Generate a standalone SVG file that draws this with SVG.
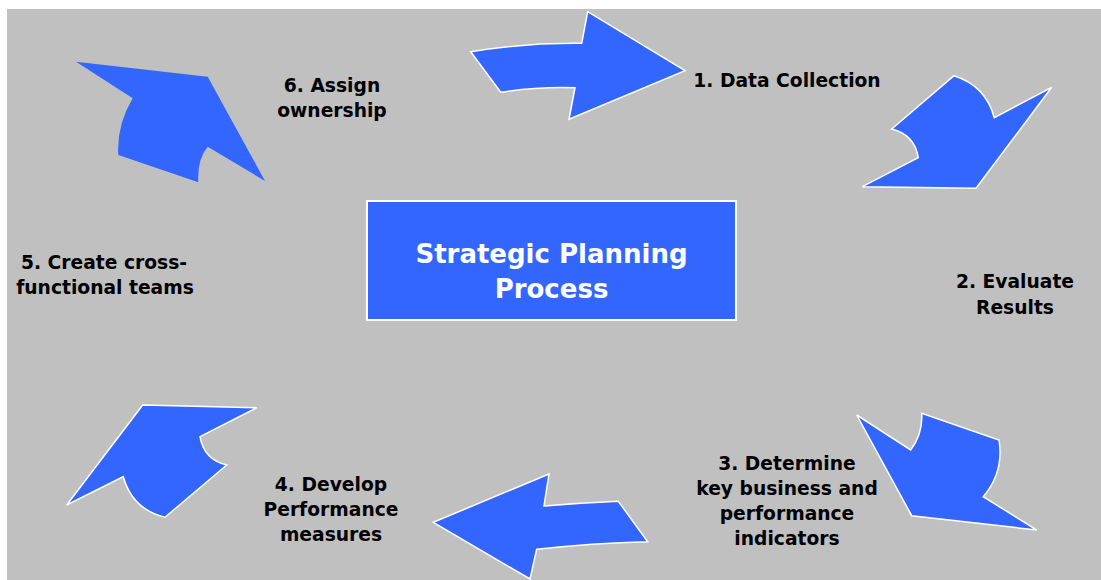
<svg xmlns="http://www.w3.org/2000/svg" width="1101" height="580" viewBox="0 0 1101 580">
<style>
.arrow{fill:#3366FF;stroke:#FFFFFF;stroke-width:1.5;stroke-linejoin:miter}
.arrow6{fill:#3366FF;stroke:none}
.lbl{font-family:"DejaVu Sans","Verdana",sans-serif;font-weight:bold;font-size:18.7px;fill:#000000;text-anchor:middle}
.title{font-family:"DejaVu Sans","Verdana",sans-serif;font-weight:bold;font-size:26px;fill:#FFFFFF;text-anchor:middle}
</style>
<rect x="0" y="0" width="1101" height="580" fill="#FFFFFF"/>
<rect x="7" y="9" width="1094" height="571" fill="#C0C0C0"/>
<g id="connectors">
  <path id="arrow1" class="arrow" d="M470.7,51.7 Q526,42.5 581.7,43.3 L587.7,11.7 L685,70.7 L569,119.3 L575,87.7 Q537,86.5 500.7,92.3 Z"/>
  <path id="arrow2" class="arrow" d="M954,75.7 Q985.7,85.7 994.3,117.7 L1051.7,87.3 L976,188.3 L862.3,186.7 L918.3,157.7 Q914.5,134.5 891.7,129 Z"/>
  <path id="arrow3" class="arrow" d="M856.7,415 L910.7,450 Q922.9,433.6 921.7,413.3 L999,440 Q1004.3,472 983.3,496.7 L1036.7,530 L911.7,515.7 Z"/>
  <path id="arrow4" class="arrow" d="M433.3,522.3 L549,474 L544,506 Q581,503 618.3,501.3 L647.7,541.7 Q592,543 536.7,549.3 L530,579 Z"/>
  <path id="arrow5" class="arrow" d="M142.7,405 L256.7,407.7 L200,436.7 Q203.9,459.8 226.7,465 L165,517.3 Q132.3,509.2 123.3,476.7 L66.7,505 Z"/>
  <path id="arrow6" class="arrow6" d="M76,61.7 L207.7,76.7 L265,181 L207.7,146.7 Q197,159.5 198.3,182.3 L118.3,155 Q116.5,125.4 132.7,98.3 Z"/>
</g>
<g id="center">
  <rect x="367" y="201" width="369" height="119" fill="#3366FF" stroke="#FFFFFF" stroke-width="2"/>
  <text class="title" x="551.5" y="263">Strategic Planning</text>
  <text class="title" x="551.5" y="298">Process</text>
</g>
<g id="step1">
  <text class="lbl" x="787" y="87">1. Data Collection</text>
</g>
<g id="step2">
  <text class="lbl" x="1015" y="288">2. Evaluate</text>
  <text class="lbl" x="1015" y="314">Results</text>
</g>
<g id="step3">
  <text class="lbl" x="787" y="470">3. Determine</text>
  <text class="lbl" x="787" y="495">key business and</text>
  <text class="lbl" x="787" y="520">performance</text>
  <text class="lbl" x="787" y="545">indicators</text>
</g>
<g id="step4">
  <text class="lbl" x="331" y="491">4. Develop</text>
  <text class="lbl" x="331" y="516">Performance</text>
  <text class="lbl" x="331" y="541">measures</text>
</g>
<g id="step5">
  <text class="lbl" x="104" y="269">5. Create cross-</text>
  <text class="lbl" x="105" y="294">functional teams</text>
</g>
<g id="step6">
  <text class="lbl" x="332" y="92">6. Assign</text>
  <text class="lbl" x="332" y="117">ownership</text>
</g>
</svg>
